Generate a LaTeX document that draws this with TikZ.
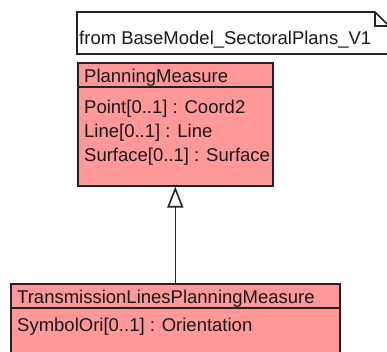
\documentclass[tikz,border=0pt]{standalone}
\usepackage{fontspec}
\setmainfont{Liberation Sans}
\usetikzlibrary{arrows.meta}
\definecolor{classfill}{RGB}{255,153,153}
\definecolor{edge}{RGB}{35,35,35}
\begin{document}
\begin{tikzpicture}[x=1pt,y=-1pt,
  txt/.style={anchor=base west,inner sep=0pt,font=\fontsize{18.5}{22}\selectfont,text=black!90},
  classbox/.style={draw=edge,line width=1.6pt,fill=classfill,anchor=north west,inner sep=0pt,rectangle},
  sep/.style={draw=edge,line width=1.6pt},
  inherit/.style={draw=edge,line width=1.6pt,-{Triangle[open,length=21pt,width=16pt,fill=white]}}]
\useasboundingbox (0,0) rectangle (387,352);
% note
\draw[edge,line width=1.6pt,fill=white] (77,12) -- (375,12) -- (388,25) -- (388,54) -- (77,54) -- cycle;
\draw[edge,line width=1.6pt] (375,12) -- (375,26) -- (388,26);
\node[txt] (note) at (79,45) {from BaseModel\_SectoralPlans\_V1};
% PlanningMeasure
\node[classbox,minimum width=195pt,minimum height=123pt] (pm) at (77,62) {};
\draw[sep] (pm.west |- 0,87) -- (pm.east |- 0,87);
\node[txt] (pmname) at (84,83) {PlanningMeasure};
\node[txt] (pma1) at (84,114) {Point[0..1] : Coord2};
\node[txt] (pma2) at (84,138) {Line[0..1] : Line};
\node[txt] (pma3) at (84,162) {Surface[0..1] : Surface};
% TransmissionLinesPlanningMeasure
\node[classbox,minimum width=329pt,minimum height=90pt] (tl) at (10,283) {};
\draw[sep] (tl.west |- 0,308) -- (tl.east |- 0,308);
\node[txt] (tlname) at (17,303) {TransmissionLinesPlanningMeasure};
\node[txt] (tla1) at (17,331) {SymbolOri[0..1] : Orientation};
% generalization
\draw[inherit] (tl.north) -- (pm.south);
\end{tikzpicture}
\end{document}
